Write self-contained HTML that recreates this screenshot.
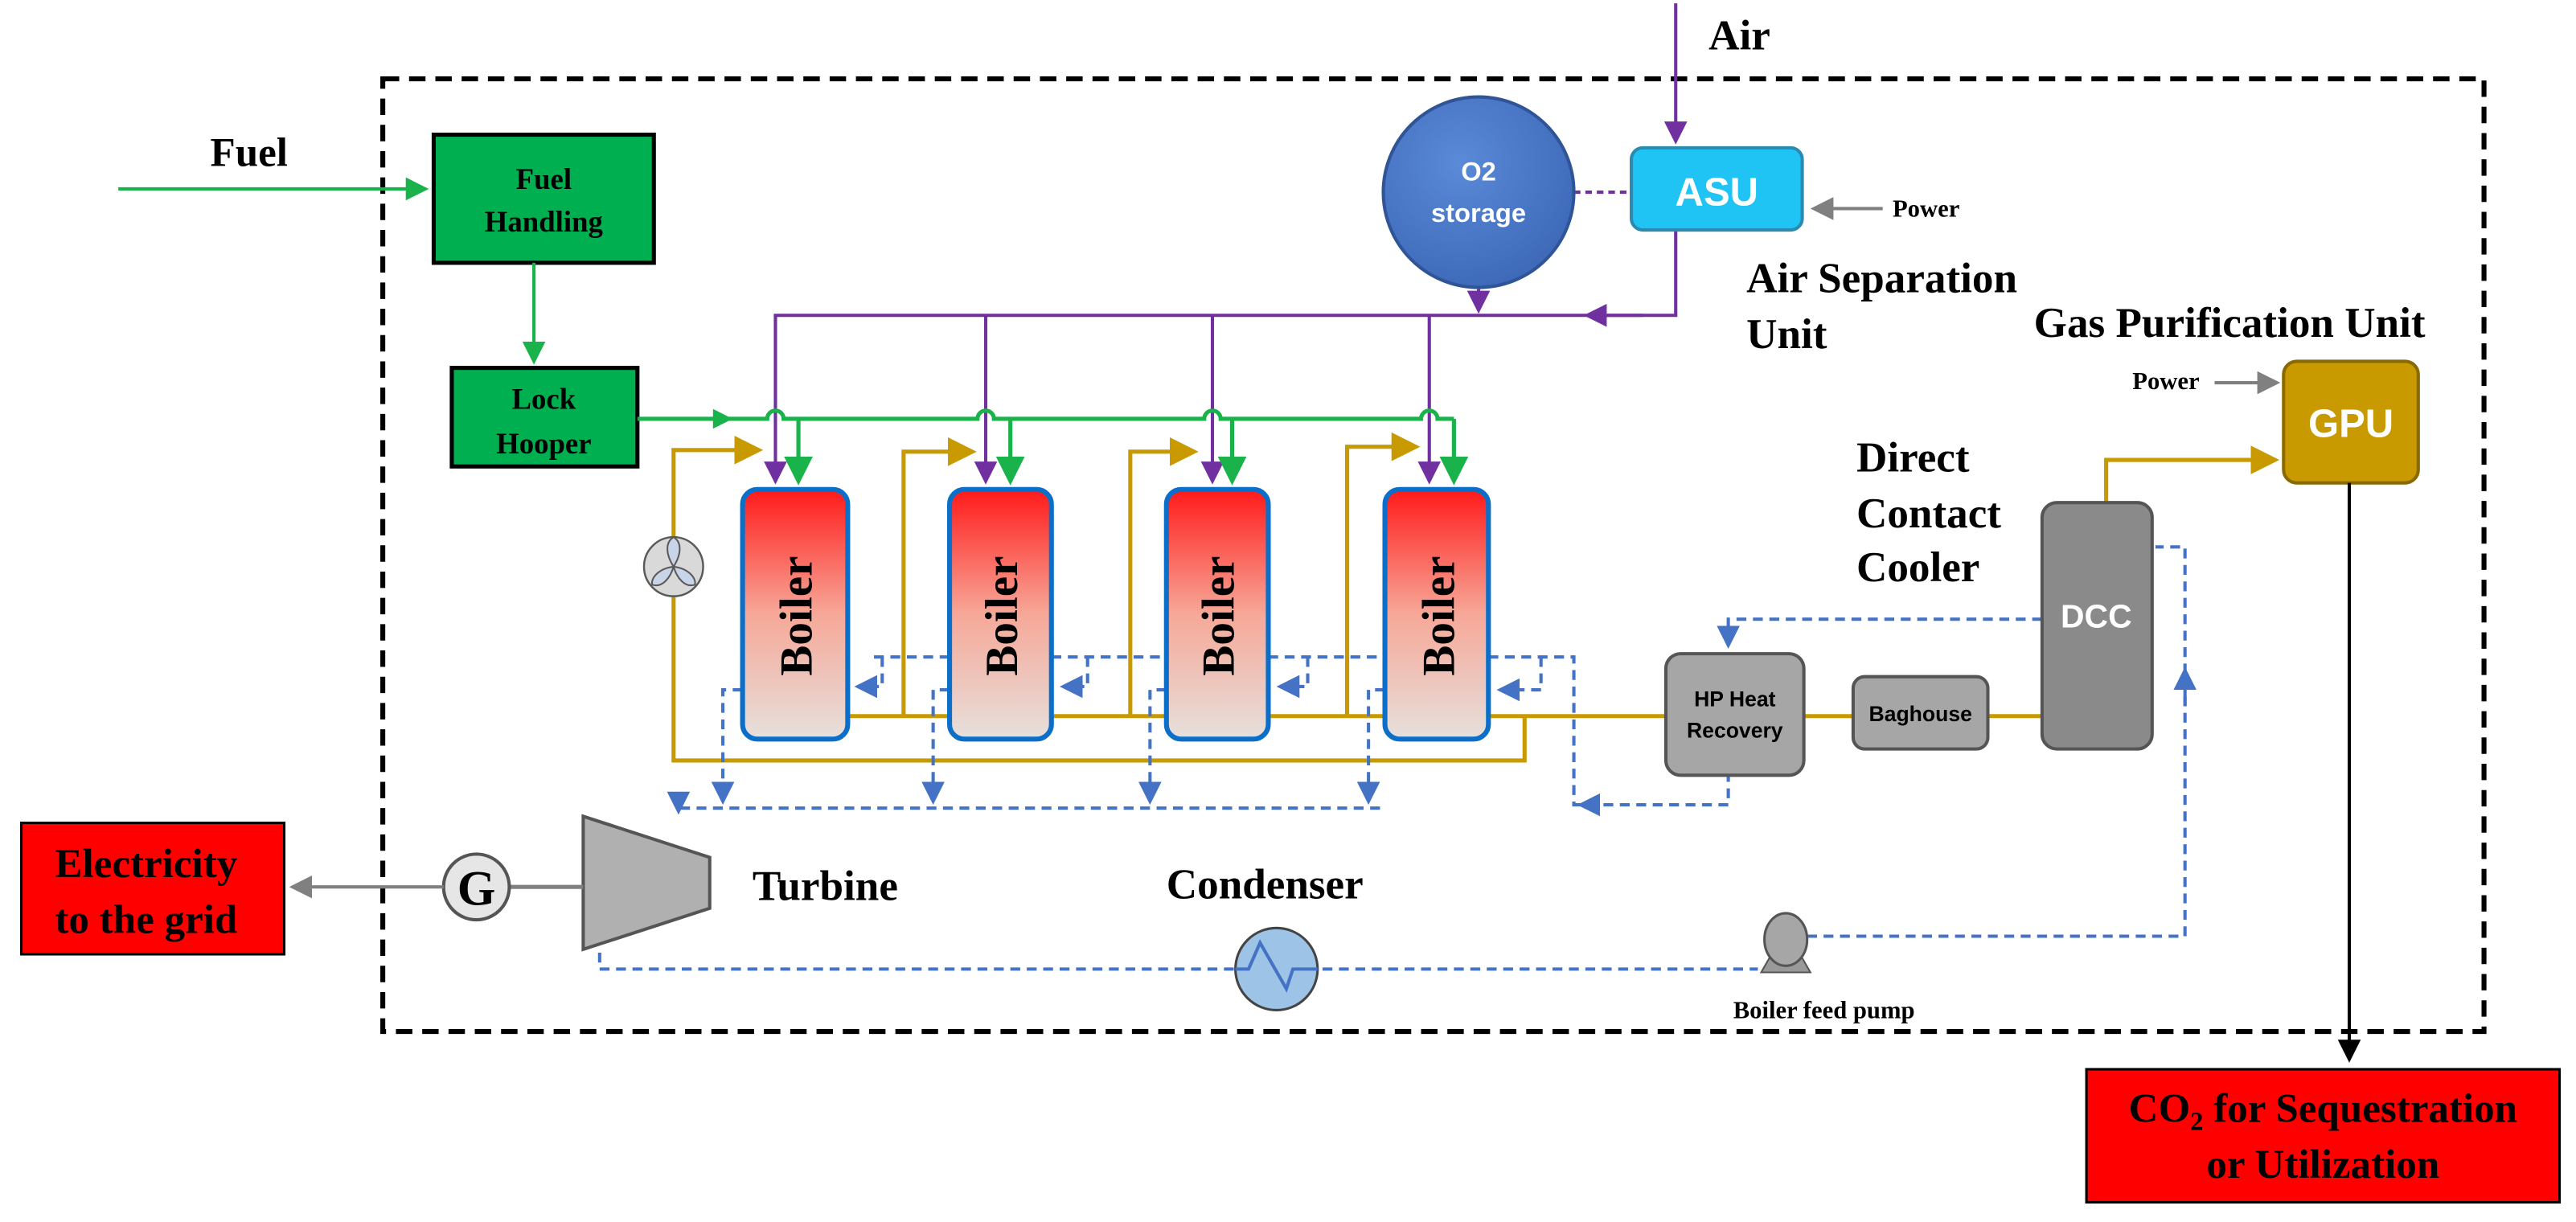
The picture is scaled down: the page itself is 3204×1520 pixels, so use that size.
<!DOCTYPE html>
<html><head><meta charset="utf-8"><style>
html,body{margin:0;padding:0;background:#fff}
svg{display:block}
text{font-family:"Liberation Serif",serif;font-weight:bold}
.s{font-family:"Liberation Sans",sans-serif}
</style></head><body>
<svg width="3204" height="1520" viewBox="0 0 1568 744" preserveAspectRatio="none" xmlns="http://www.w3.org/2000/svg">
<defs>
<marker id="ag" markerWidth="7" markerHeight="7" refX="6" refY="3.5" orient="auto" markerUnits="strokeWidth"><path d="M0,0L7,3.5L0,7z" fill="#1ab24a"/></marker>
<marker id="ap" markerWidth="7" markerHeight="7" refX="6" refY="3.5" orient="auto" markerUnits="strokeWidth"><path d="M0,0L7,3.5L0,7z" fill="#7030a0"/></marker>
<marker id="ay" markerWidth="7" markerHeight="7" refX="6" refY="3.5" orient="auto" markerUnits="strokeWidth"><path d="M0,0L7,3.5L0,7z" fill="#c89a00"/></marker>
<marker id="ab" markerWidth="7" markerHeight="7" refX="6" refY="3.5" orient="auto" markerUnits="strokeWidth"><path d="M0,0L7,3.5L0,7z" fill="#4472c4"/></marker>
<marker id="ak" markerWidth="7" markerHeight="7" refX="6" refY="3.5" orient="auto" markerUnits="strokeWidth"><path d="M0,0L7,3.5L0,7z" fill="#000"/></marker>
<marker id="ar" markerWidth="7" markerHeight="7" refX="6" refY="3.5" orient="auto" markerUnits="strokeWidth"><path d="M0,0L7,3.5L0,7z" fill="#808080"/></marker>
<linearGradient id="boil" x1="0" y1="0" x2="0" y2="1"><stop offset="0" stop-color="#ff1a1a"/><stop offset="0.5" stop-color="#f6a898"/><stop offset="1" stop-color="#e6e0dc"/></linearGradient>
<radialGradient id="o2" cx="0.4" cy="0.35" r="0.7"><stop offset="0" stop-color="#5a8ad8"/><stop offset="1" stop-color="#3d68b8"/></radialGradient>
</defs>

<rect x="233" y="48" width="1279" height="580" fill="none" stroke="#000" stroke-width="3" stroke-dasharray="10,6"/>

<text x="1040" y="30" font-size="26">Air</text>
<line x1="1020" y1="2" x2="1020" y2="86" stroke="#7030a0" stroke-width="2" marker-end="url(#ap)"/>

<text x="128" y="101" font-size="25">Fuel</text>
<line x1="72" y1="115" x2="259" y2="115" stroke="#1ab24a" stroke-width="2" marker-end="url(#ag)"/>
<rect x="264" y="82" width="134" height="78" fill="#00b050" stroke="#000" stroke-width="2.5"/>
<text x="331" y="115" font-size="18" text-anchor="middle">Fuel</text>
<text x="331" y="141" font-size="18" text-anchor="middle">Handling</text>
<line x1="325" y1="160" x2="325" y2="220" stroke="#1ab24a" stroke-width="2" marker-end="url(#ag)"/>
<rect x="275" y="224" width="113" height="60" fill="#00b050" stroke="#000" stroke-width="2.5"/>
<text x="331" y="249" font-size="18" text-anchor="middle">Lock</text>
<text x="331" y="276" font-size="18" text-anchor="middle">Hooper</text>

<polyline points="1020,140 1020,192 472,192 472,293" fill="none" stroke="#7030a0" stroke-width="2" marker-end="url(#ap)"/>
<line x1="1000" y1="192" x2="966" y2="192" stroke="#7030a0" stroke-width="2" marker-end="url(#ap)"/>
<line x1="600" y1="192" x2="600" y2="293" stroke="#7030a0" stroke-width="2" marker-end="url(#ap)"/>
<line x1="738" y1="192" x2="738" y2="293" stroke="#7030a0" stroke-width="2" marker-end="url(#ap)"/>
<line x1="870" y1="192" x2="870" y2="293" stroke="#7030a0" stroke-width="2" marker-end="url(#ap)"/>
<line x1="900" y1="176" x2="900" y2="189" stroke="#7030a0" stroke-width="2" stroke-dasharray="4,3" marker-end="url(#ap)"/>
<line x1="958" y1="117" x2="993" y2="117" stroke="#7030a0" stroke-width="2" stroke-dasharray="4,3"/>

<path d="M388,255 H467 a5,5 0 0 1 10,0 H595 a5,5 0 0 1 10,0 H733 a5,5 0 0 1 10,0 H865 a5,5 0 0 1 10,0 H885" fill="none" stroke="#1ab24a" stroke-width="2.5"/>
<path d="M434,249 L446,255 L434,261z" fill="#1ab24a"/>
<line x1="486" y1="255" x2="486" y2="293" stroke="#1ab24a" stroke-width="2.5" marker-end="url(#ag)"/>
<line x1="615" y1="255" x2="615" y2="293" stroke="#1ab24a" stroke-width="2.5" marker-end="url(#ag)"/>
<line x1="750" y1="255" x2="750" y2="293" stroke="#1ab24a" stroke-width="2.5" marker-end="url(#ag)"/>
<line x1="885" y1="255" x2="885" y2="293" stroke="#1ab24a" stroke-width="2.5" marker-end="url(#ag)"/>

<g fill="none" stroke="#c89a00" stroke-width="2.5">
<polyline points="410,328 410,274 462,274" marker-end="url(#ay)"/>
<polyline points="410,362 410,463 928,463 928,436"/>
<polyline points="550,436 550,275 592,275" marker-end="url(#ay)"/>
<polyline points="688,436 688,275 727,275" marker-end="url(#ay)"/>
<polyline points="820,436 820,272 862,272" marker-end="url(#ay)"/>
<line x1="516" y1="436" x2="1243" y2="436"/>
<polyline points="1282,306 1282,280 1385,280" marker-end="url(#ay)"/>
</g>
<circle cx="410" cy="345" r="18" fill="#d9d9d9" stroke="#595959" stroke-width="1.2"/>
<path d="M410,345 C405,337 405,330 410,327 C415,330 415,337 410,345 M410,345 C401,346 396,352 397,356 C403,358 408,352 410,345 M410,345 C419,346 424,352 423,356 C417,358 412,352 410,345" fill="#c8d4e8" stroke="#595959" stroke-width="1"/>

<g fill="none" stroke="#4472c4" stroke-width="2" stroke-dasharray="6,4">
<polyline points="452,420 440,420 440,488" marker-end="url(#ab)"/>
<polyline points="578,420 568,420 568,488" marker-end="url(#ab)"/>
<polyline points="710,420 700,420 700,488" marker-end="url(#ab)"/>
<polyline points="843,420 833,420 833,488" marker-end="url(#ab)"/>
<polyline points="840,492 413,492 413,494"/>
<polyline points="532,400 578,400"/><polyline points="640,400 710,400"/><polyline points="772,400 843,400"/><polyline points="906,400 958,400 958,490 1052,490 1052,472"/>
<polyline points="537,400 537,418 522,418" marker-end="url(#ab)"/>
<polyline points="662,400 662,418 647,418" marker-end="url(#ab)"/>
<polyline points="796,400 796,418 779,418" marker-end="url(#ab)"/>
<polyline points="938,400 938,420 913,420" marker-end="url(#ab)"/>
<polyline points="1243,377 1052,377 1052,393" marker-end="url(#ab)"/>
<polyline points="365,580 365,590 1070,590"/>
<polyline points="1100,570 1330,570 1330,333 1312,333"/>
</g>
<line x1="413" y1="492" x2="413" y2="494" stroke="#4472c4" stroke-width="2" marker-end="url(#ab)"/>
<line x1="966" y1="490" x2="962" y2="490" stroke="#4472c4" stroke-width="2" marker-end="url(#ab)"/>
<line x1="1330" y1="430" x2="1330" y2="408" stroke="#4472c4" stroke-width="2" marker-end="url(#ab)"/>

<g>
<rect x="452" y="298" width="64" height="152" rx="9" fill="url(#boil)" stroke="#0b6fc9" stroke-width="3"/>
<rect x="578" y="298" width="62" height="152" rx="9" fill="url(#boil)" stroke="#0b6fc9" stroke-width="3"/>
<rect x="710" y="298" width="62" height="152" rx="9" fill="url(#boil)" stroke="#0b6fc9" stroke-width="3"/>
<rect x="843" y="298" width="63" height="152" rx="9" fill="url(#boil)" stroke="#0b6fc9" stroke-width="3"/>
<text transform="translate(494,375) rotate(-90)" font-size="28" text-anchor="middle">Boiler</text>
<text transform="translate(619,375) rotate(-90)" font-size="28" text-anchor="middle">Boiler</text>
<text transform="translate(751,375) rotate(-90)" font-size="28" text-anchor="middle">Boiler</text>
<text transform="translate(885,375) rotate(-90)" font-size="28" text-anchor="middle">Boiler</text>
</g>

<circle cx="900" cy="117" r="58" fill="url(#o2)" stroke="#2f5597" stroke-width="2"/>
<text class="s" x="900" y="110" font-size="16" fill="#fff" text-anchor="middle">O2</text>
<text class="s" x="900" y="135" font-size="16" fill="#fff" text-anchor="middle">storage</text>

<rect x="993" y="90" width="104" height="50" rx="7" fill="#1fc4f4" stroke="#2a8ab0" stroke-width="2"/>
<text class="s" x="1045" y="125" font-size="24" fill="#fff" text-anchor="middle">ASU</text>
<line x1="1146" y1="127" x2="1104" y2="127" stroke="#808080" stroke-width="2" marker-end="url(#ar)"/>
<text x="1152" y="132" font-size="15">Power</text>
<text x="1063" y="178" font-size="26">Air Separation</text>
<text x="1063" y="212" font-size="26">Unit</text>

<text x="1238" y="205" font-size="26">Gas Purification Unit</text>
<text x="1298" y="237" font-size="15">Power</text>
<line x1="1348" y1="233" x2="1386" y2="233" stroke="#808080" stroke-width="2" marker-end="url(#ar)"/>
<rect x="1390" y="220" width="82" height="74" rx="8" fill="#c89a00" stroke="#8a6a00" stroke-width="2"/>
<text class="s" x="1431" y="266" font-size="24" fill="#fff" text-anchor="middle">GPU</text>
<line x1="1430" y1="294" x2="1430" y2="645" stroke="#000" stroke-width="2" marker-end="url(#ak)"/>
<rect x="1270" y="651" width="288" height="81" fill="#ff0000" stroke="#000" stroke-width="1.5"/>
<text x="1414" y="683" font-size="25" text-anchor="middle">CO<tspan font-size="16" dy="5">2</tspan><tspan dy="-5"> for Sequestration</tspan></text>
<text x="1414" y="717" font-size="25" text-anchor="middle">or Utilization</text>

<text x="1130" y="287" font-size="26">Direct</text>
<text x="1130" y="321" font-size="26">Contact</text>
<text x="1130" y="354" font-size="26">Cooler</text>
<rect x="1243" y="306" width="67" height="150" rx="9" fill="#8a8a8a" stroke="#555" stroke-width="2"/>
<text class="s" x="1276" y="382" font-size="20" fill="#fff" text-anchor="middle">DCC</text>

<rect x="1014" y="398" width="84" height="74" rx="9" fill="#a6a6a6" stroke="#555" stroke-width="2"/>
<text class="s" x="1056" y="430" font-size="13" text-anchor="middle">HP Heat</text>
<text class="s" x="1056" y="449" font-size="13" text-anchor="middle">Recovery</text>
<rect x="1128" y="412" width="82" height="44" rx="7" fill="#a6a6a6" stroke="#555" stroke-width="2"/>
<text class="s" x="1169" y="439" font-size="13" text-anchor="middle">Baghouse</text>

<polygon points="355,497 432,522 432,553 355,578" fill="#b0b0b0" stroke="#555" stroke-width="2"/>
<line x1="310" y1="540" x2="355" y2="540" stroke="#808080" stroke-width="2.5"/>
<circle cx="290" cy="540" r="20" fill="#e6e6e6" stroke="#555" stroke-width="2"/>
<text x="290" y="551" font-size="30" text-anchor="middle">G</text>
<line x1="270" y1="540" x2="178" y2="540" stroke="#808080" stroke-width="2" marker-end="url(#ar)"/>
<rect x="13" y="501" width="160" height="80" fill="#ff0000" stroke="#000" stroke-width="1.5"/>
<text x="89" y="534" font-size="25" text-anchor="middle">Electricity</text>
<text x="89" y="568" font-size="25" text-anchor="middle">to the grid</text>
<text x="458" y="548" font-size="26">Turbine</text>
<text x="710" y="547" font-size="26">Condenser</text>

<circle cx="777" cy="590" r="25" fill="#9dc3e6" stroke="#444" stroke-width="1.5"/>
<polyline points="752,590 760,590 767,574 783,602 787,590 802,590" fill="none" stroke="#4472c4" stroke-width="2"/>

<polygon points="1072,592 1102,592 1094,578 1080,578" fill="#999" stroke="#555"/>
<ellipse cx="1087" cy="572" rx="13" ry="16" fill="#a6a6a6" stroke="#555" stroke-width="1.5"/>
<text x="1055" y="620" font-size="15">Boiler feed pump</text>
</svg>
</body></html>
